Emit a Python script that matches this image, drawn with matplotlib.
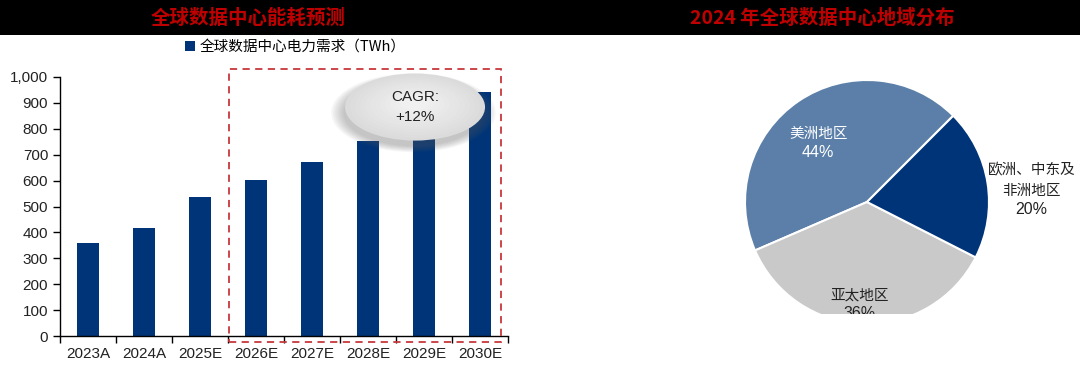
import numpy as np
import matplotlib
matplotlib.use("Agg")
import matplotlib.pyplot as plt
from matplotlib.patches import Rectangle, Ellipse
from matplotlib.ticker import FuncFormatter

plt.rcParams['font.family'] = ['Liberation Sans', 'Noto Sans CJK SC', 'DejaVu Sans']

# dados do grafico de barras
anos = ["2023A", "2024A", "2025E", "2026E", "2027E", "2028E", "2029E", "2030E"]
demanda = [360, 416, 536, 601, 673, 754, 845, 943]
serie_nome = "全球数据中心电力需求（TWh）"
cagr_txt = "CAGR:\n+12%"

# dados da pizza
regioes = ["美洲地区", "亚太地区", "欧洲、中东及\n非洲地区"]
fatias = [44, 36, 20]
cores_pizza = ["#5B7FA8", "#C9C9C9", "#003478"]
cores_texto = ["white", "#222222", "#222222"]

titulo_esq = "全球数据中心能耗预测"
titulo_dir = "2024 年全球数据中心地域分布"

azul = "#003478"
vermelho = "#C00000"
cjk = ['Noto Sans CJK SC', 'DejaVu Sans']

fig = plt.figure(figsize=(10.8, 3.66), dpi=100)
fig.patch.set_facecolor("white")

# faixa preta do topo
fig.patches.append(Rectangle((0, 1 - 35 / 366), 1, 35 / 366, transform=fig.transFigure,
                             facecolor="black", edgecolor="none", zorder=0))
fig.text(248 / 1080, 1 - 18 / 366, titulo_esq, color=vermelho, fontsize=14,
         fontweight="heavy", ha="center", va="center", family=cjk)
fig.text(822 / 1080, 1 - 18 / 366, titulo_dir, color=vermelho, fontsize=14,
         fontweight="heavy", ha="center", va="center", family=cjk)

# barras
ax = fig.add_axes([60 / 1080, 30 / 366, 448 / 1080, 259 / 366])
x = np.arange(len(anos))
ax.bar(x, demanda, width=0.39, color=azul, label=serie_nome, zorder=2)
ax.set_xlim(-0.5, len(anos) - 0.5)
ax.set_ylim(0, 1000)
ax.set_yticks(np.arange(0, 1001, 100))
ax.yaxis.set_major_formatter(FuncFormatter(lambda v, p: f"{int(v):,}"))
ax.set_xticks(np.arange(-0.5, len(anos), 1))
ax.set_xticklabels([])
ax.set_xticks(x, minor=True)
ax.set_xticklabels(anos, minor=True)
ax.tick_params(axis="x", which="major", direction="out", length=5, width=1, colors="black")
ax.tick_params(axis="x", which="minor", length=0, pad=8, labelsize=11, labelcolor="#222222")
ax.tick_params(axis="y", direction="out", length=5, width=1, labelsize=11, labelcolor="#222222")
for s in ["top", "right"]:
    ax.spines[s].set_visible(False)
for s in ["left", "bottom"]:
    ax.spines[s].set_linewidth(1)

leg = ax.legend(loc="center", bbox_to_anchor=(0.525, 1.116), frameon=False,
                prop={"family": cjk, "size": 10.5},
                handlelength=0.7, handleheight=0.7, handletextpad=0.3)

# caixa tracejada das projecoes
ax.add_patch(Rectangle((2.52, -23), 4.855, 1054, fill=False, edgecolor="#C8373B",
                       linestyle=(0, (4, 3)), linewidth=1.3, clip_on=False, zorder=3))

# balao do CAGR (sombra suave + gradiente)
cx, cy, w, h = 5.84, 884, 2.5, 259
for i in range(8):
    k = 1 + 0.025 * i
    ax.add_patch(Ellipse((cx - 0.03, cy - 22), w * k, h * k, facecolor="#606060",
                         edgecolor="none", alpha=0.05, clip_on=False, zorder=4))
for i in range(12):
    k = 1 - i / 14
    tom = 0.86 + 0.08 * (i / 11)
    ax.add_patch(Ellipse((cx, cy + 20 * (1 - k)), w * k, h * k,
                         facecolor=(tom, tom, tom), edgecolor="none",
                         clip_on=False, zorder=5))
ax.text(cx, cy, cagr_txt, ha="center", va="center", fontsize=11, color="#222222",
        linespacing=1.5, zorder=6)

# pizza
ax2 = fig.add_axes([745 / 1080, 42 / 366, 244 / 1080, 244 / 366])
cunhas, _ = ax2.pie(fatias, colors=cores_pizza, startangle=45, counterclock=True,
                    wedgeprops=dict(edgecolor="white", linewidth=1.5))
ax2.set_xlim(-1, 1)
ax2.set_ylim(-1, 1)
ax2.set_aspect("equal")

pos_rot = [(-0.4, 0.5), (-0.06, -0.82), (1.35, 0.03)]
for nome, v, c, (px, py) in zip(regioes, fatias, cores_texto, pos_rot):
    ax2.text(px, py, nome, ha="center", va="bottom", fontsize=10.5,
             color=c, linespacing=1.6, family=cjk)
    ax2.text(px, py - 0.03, f"{v}%", ha="center", va="top", fontsize=11.5,
             color=c)

# mancha branca na base da pizza
fig.patches.append(Rectangle((745 / 1080, 0), 250 / 1080, 52 / 366, transform=fig.transFigure,
                             facecolor="white", edgecolor="none", zorder=10))

fig.savefig("out.png", dpi=100)
